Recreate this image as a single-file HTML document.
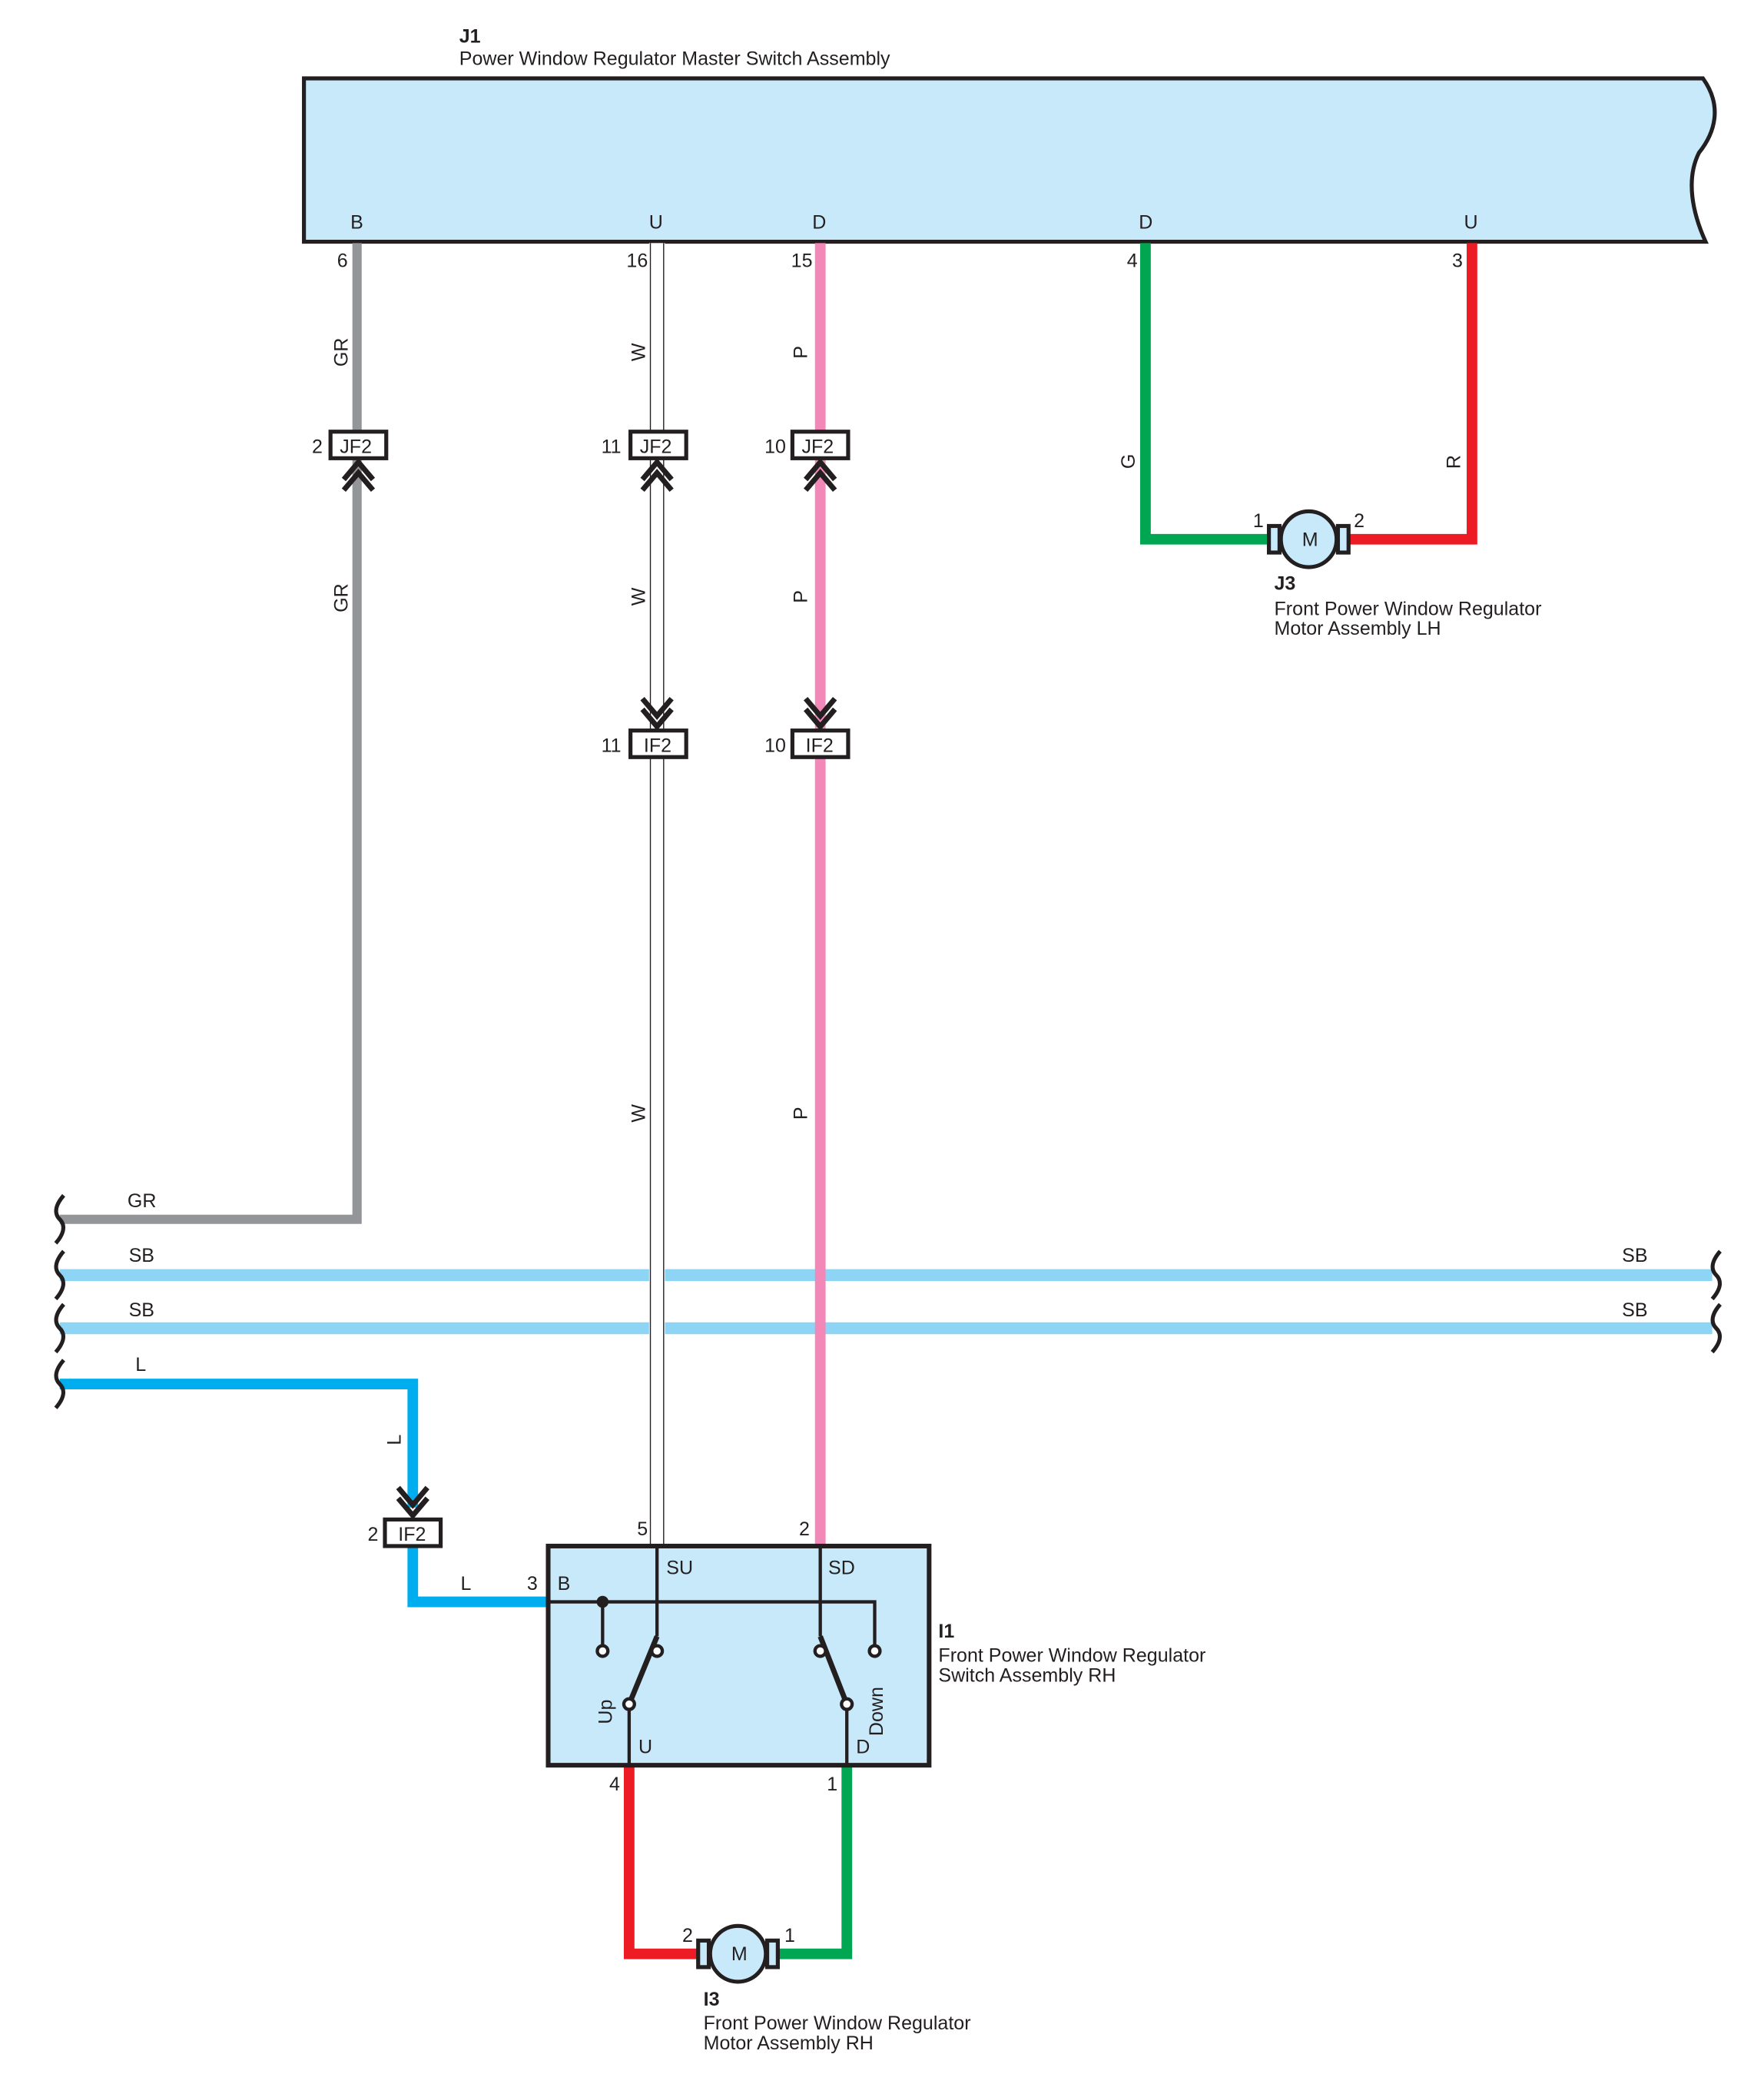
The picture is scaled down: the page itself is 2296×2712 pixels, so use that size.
<!DOCTYPE html>
<html><head><meta charset="utf-8"><style>
html,body{margin:0;padding:0;background:#fff;}
svg{display:block;}
text{font-family:"Liberation Sans",Arial,sans-serif;font-size:14.5px;fill:#231f20;}
.b{font-weight:bold;}
</style></head><body>
<svg width="2296" height="2712" viewBox="0 0 1329 1569" preserveAspectRatio="none" xmlns="http://www.w3.org/2000/svg">
<defs>
<g id="chevU" fill="none" stroke="#231f20" stroke-width="4">
<path d="M-11,14 L0,1 L11,14"/><path d="M-11,22 L0,9 L11,22"/>
</g>
<g id="chevD" fill="none" stroke="#231f20" stroke-width="4">
<path d="M-11,-14 L0,-1 L11,-14"/><path d="M-11,-22 L0,-9 L11,-22"/>
</g>
<path id="wave" d="M3,-18 C-4,-10 -4,-4 0,0 C4,4 4,10 -3,18" fill="none" stroke="#231f20" stroke-width="3"/>
</defs>

<path d="M229,59 L1283,59 C1298,80 1292,100 1280,115 C1270,135 1275,160 1285,182 L229,182 Z" fill="#c8e9fa" stroke="#231f20" stroke-width="3"/>
<text x="346" y="32" class="b">J1</text>
<text x="346" y="49">Power Window Regulator Master Switch Assembly</text>
<text x="264" y="172">B</text><text x="489" y="172">U</text><text x="612" y="172">D</text><text x="858" y="172">D</text><text x="1103" y="172">U</text>

<path d="M45,918 L269,918 L269,183" fill="none" stroke="#939598" stroke-width="7"/>
<line x1="45" y1="960" x2="1290" y2="960" stroke="#8dd4f5" stroke-width="9"/>
<line x1="45" y1="1000" x2="1290" y2="1000" stroke="#8dd4f5" stroke-width="9"/>
<path d="M45,1042 L311,1042 L311,1135" fill="none" stroke="#00aeef" stroke-width="8"/>
<path d="M311,1164 L311,1206 L413,1206" fill="none" stroke="#00aeef" stroke-width="8"/>

<rect x="489" y="183" width="12" height="981" fill="#fff"/>
<line x1="490" y1="183" x2="490" y2="1164" stroke="#231f20" stroke-width="0.8"/>
<line x1="500" y1="183" x2="500" y2="1164" stroke="#231f20" stroke-width="0.8"/>
<line x1="618" y1="183" x2="618" y2="1164" stroke="#f288b8" stroke-width="8"/>
<path d="M863,183 L863,406 L958,406" fill="none" stroke="#00a651" stroke-width="8"/>
<path d="M1109,183 L1109,406 L1014,406" fill="none" stroke="#ed1c24" stroke-width="8"/>

<text x="254" y="201">6</text><text x="472" y="201">16</text><text x="596" y="201">15</text><text x="849" y="201">4</text><text x="1094" y="201">3</text>

<g>
<text transform="translate(262,276) rotate(-90)">GR</text>
<text transform="translate(486,272) rotate(-90)">W</text>
<text transform="translate(608,270) rotate(-90)">P</text>
<text transform="translate(855,353) rotate(-90)">G</text>
<text transform="translate(1100,353) rotate(-90)">R</text>
<text transform="translate(262,461) rotate(-90)">GR</text>
<text transform="translate(486,456) rotate(-90)">W</text>
<text transform="translate(608,454) rotate(-90)">P</text>
<text transform="translate(486,845) rotate(-90)">W</text>
<text transform="translate(608,843) rotate(-90)">P</text>
<text transform="translate(302,1088) rotate(-90)">L</text>
</g>

<g>
<rect x="249" y="325" width="42" height="20" fill="#fff" stroke="#231f20" stroke-width="3"/>
<text x="256" y="341">JF2</text><text x="235" y="341">2</text>
<use href="#chevU" x="270" y="347"/>
<rect x="475" y="325" width="42" height="20" fill="#fff" stroke="#231f20" stroke-width="3"/>
<text x="482" y="341">JF2</text><text x="453" y="341">11</text>
<use href="#chevU" x="495" y="347"/>
<rect x="597" y="325" width="42" height="20" fill="#fff" stroke="#231f20" stroke-width="3"/>
<text x="604" y="341">JF2</text><text x="576" y="341">10</text>
<use href="#chevU" x="618" y="347"/>
<rect x="475" y="550" width="42" height="20" fill="#fff" stroke="#231f20" stroke-width="3"/>
<text x="485" y="566">IF2</text><text x="453" y="566">11</text>
<use href="#chevD" x="495" y="548"/>
<rect x="597" y="550" width="42" height="20" fill="#fff" stroke="#231f20" stroke-width="3"/>
<text x="607" y="566">IF2</text><text x="576" y="566">10</text>
<use href="#chevD" x="618" y="548"/>
<rect x="290" y="1144" width="42" height="20" fill="#fff" stroke="#231f20" stroke-width="3"/>
<text x="300" y="1160">IF2</text><text x="277" y="1160">2</text>
<use href="#chevD" x="311" y="1142"/>
</g>

<use href="#wave" x="45" y="918"/>
<use href="#wave" x="45" y="960"/>
<use href="#wave" x="45" y="1000"/>
<use href="#wave" x="45" y="1042"/>
<use href="#wave" x="1293" y="960"/>
<use href="#wave" x="1293" y="1000"/>
<text x="96" y="909">GR</text><text x="97" y="950">SB</text><text x="97" y="991">SB</text><text x="102" y="1032">L</text>
<text x="1222" y="950">SB</text><text x="1222" y="991">SB</text>
<text x="347" y="1197">L</text><text x="397" y="1197">3</text>

<g>
<rect x="956" y="396" width="8" height="20" fill="#c8e9fa" stroke="#231f20" stroke-width="3"/>
<rect x="1008" y="396" width="8" height="20" fill="#c8e9fa" stroke="#231f20" stroke-width="3"/>
<circle cx="986" cy="406" r="21" fill="#c8e9fa" stroke="#231f20" stroke-width="3"/>
<text x="981" y="411">M</text>
<text x="944" y="397">1</text><text x="1020" y="397">2</text>
<text x="960" y="444" class="b">J3</text>
<text x="960" y="463">Front Power Window Regulator</text>
<text x="960" y="478">Motor Assembly LH</text>
</g>

<line x1="474" y1="1329" x2="474" y2="1471" stroke="#ed1c24" stroke-width="8"/>
<line x1="638" y1="1329" x2="638" y2="1471" stroke="#00a651" stroke-width="8"/>
<line x1="470" y1="1471" x2="530" y2="1471" stroke="#ed1c24" stroke-width="8"/>
<line x1="582" y1="1471" x2="642" y2="1471" stroke="#00a651" stroke-width="8"/>
<rect x="413" y="1164" width="287" height="165" fill="#c8e9fa" stroke="#231f20" stroke-width="3.5"/>
<g fill="none" stroke="#231f20" stroke-width="2.5">
<path d="M413,1206 L659,1206 L659,1239"/>
<line x1="454" y1="1206" x2="454" y2="1239"/>
<line x1="495" y1="1164" x2="495" y2="1232"/>
<line x1="618" y1="1164" x2="618" y2="1232"/>
<line x1="474" y1="1287" x2="474" y2="1329"/>
<line x1="638" y1="1287" x2="638" y2="1329"/>
</g>
<g stroke="#231f20" stroke-width="4">
<line x1="474" y1="1283" x2="495" y2="1232"/>
<line x1="638" y1="1283" x2="618" y2="1232"/>
</g>
<circle cx="454" cy="1206" r="4.5" fill="#231f20"/>
<g fill="#fff" stroke="#231f20" stroke-width="2.5">
<circle cx="454" cy="1243" r="4"/><circle cx="495" cy="1243" r="4"/>
<circle cx="618" cy="1243" r="4"/><circle cx="659" cy="1243" r="4"/>
<circle cx="474" cy="1283" r="4"/><circle cx="638" cy="1283" r="4"/>
</g>
<text x="502" y="1185">SU</text><text x="624" y="1185">SD</text><text x="420" y="1197">B</text>
<text x="481" y="1320">U</text><text x="645" y="1320">D</text>
<text transform="translate(461,1298) rotate(-90)">Up</text>
<text transform="translate(665,1307) rotate(-90)">Down</text>
<text x="480" y="1156">5</text><text x="602" y="1156">2</text>
<text x="459" y="1348">4</text><text x="623" y="1348">1</text>
<text x="707" y="1233" class="b">I1</text>
<text x="707" y="1251">Front Power Window Regulator</text>
<text x="707" y="1266">Switch Assembly RH</text>

<g>
<rect x="526" y="1461" width="8" height="20" fill="#c8e9fa" stroke="#231f20" stroke-width="3"/>
<rect x="578" y="1461" width="8" height="20" fill="#c8e9fa" stroke="#231f20" stroke-width="3"/>
<circle cx="556" cy="1471" r="21" fill="#c8e9fa" stroke="#231f20" stroke-width="3"/>
<text x="551" y="1476">M</text>
<text x="514" y="1462">2</text><text x="591" y="1462">1</text>
<text x="530" y="1510" class="b">I3</text>
<text x="530" y="1528">Front Power Window Regulator</text>
<text x="530" y="1543">Motor Assembly RH</text>
</g>
</svg>
</body></html>
